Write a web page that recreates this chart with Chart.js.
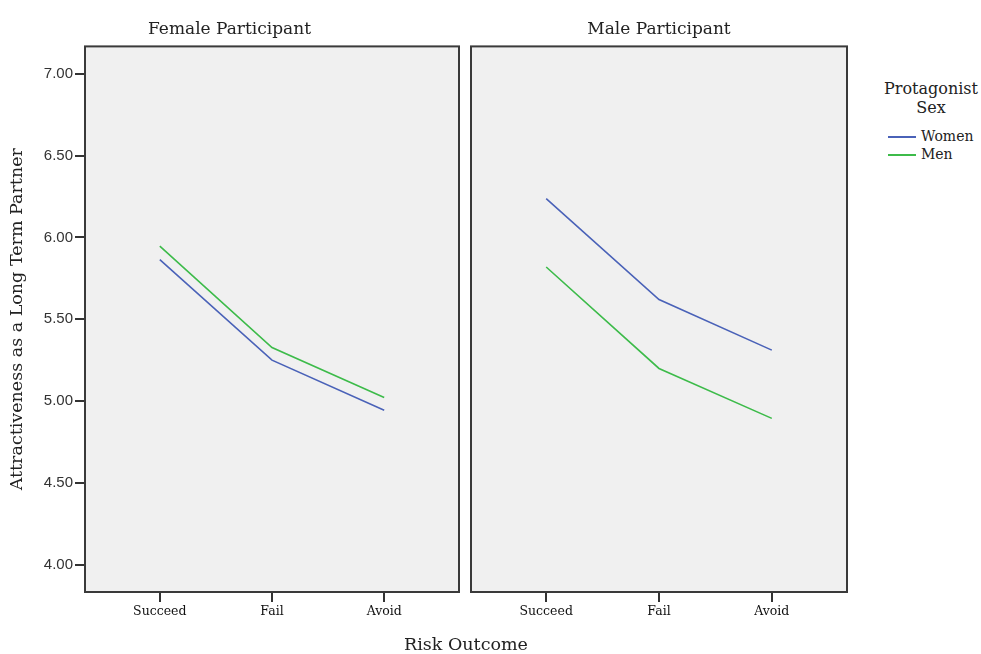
<!DOCTYPE html>
<html>
<head>
<meta charset="utf-8">
<script src="https://cdn.jsdelivr.net/npm/chart.js@4/dist/chart.umd.min.js"></script>
<style>
    body { margin: 0; background: #fff; width: 981px; height: 654px; position: relative; overflow: hidden; }
    canvas { position: absolute; top: 0; }
    #c1 { left: 0; }
    #c2 { left: 460px; }
    .txt { position: absolute; font-family: "DejaVu Serif", "Liberation Serif", serif; color: #222; }
    #xtitle { left: 0; width: 932px; top: 634px; text-align: center; font-size: 17.5px; }
    #legend { left: 880px; top: 79px; width: 102px; font-size: 16px; }
    #legend .head { text-align: center; line-height: 19px; }
    #legend .item { font-size: 14px; line-height: 18px; white-space: nowrap; }
    #legend .sw { display: inline-block; width: 28px; height: 2px; vertical-align: middle; margin: 0 5px 0 8px; }
</style>
</head>
<body>
<canvas id="c1" width="470" height="654"></canvas>
<canvas id="c2" width="400" height="654"></canvas>
<div class="txt" id="xtitle">Risk Outcome</div>
<div class="txt" id="legend"></div>
<script>
// カテゴリとデータ
const categories = ['Succeed', 'Fail', 'Avoid'];
const panels = ['Female Participant', 'Male Participant'];
const seriesNames = ['Women', 'Men'];
const seriesColors = ['#4a62b8', '#3dbb4a'];
const femaleWomen = [5.864, 5.25, 4.944];
const femaleMen = [5.946, 5.327, 5.022];
const maleWomen = [6.237, 5.62, 5.311];
const maleMen = [5.819, 5.199, 4.894];
const yTicks = [4.0, 4.5, 5.0, 5.5, 6.0, 6.5, 7.0];

const serif = '"DejaVu Serif", "Liberation Serif", serif';
const sans = '"Liberation Sans", Arial, sans-serif';

// 凡例（HTML）
const legendEl = document.getElementById('legend');
legendEl.innerHTML = '<div class="head">Protagonist<br>Sex</div><div style="height:10px"></div>' +
    seriesNames.map((n, i) => '<div class="item"><span class="sw" style="background:' + seriesColors[i] + '"></span>' + n + '</div>').join('');

// パネル背景と枠
const panelFrame = {
    id: 'panelFrame',
    beforeDraw(chart) {
        const a = chart.chartArea;
        const ctx = chart.ctx;
        ctx.save();
        ctx.fillStyle = '#f0f0f0';
        ctx.fillRect(a.left, a.top, a.right - a.left, a.bottom - a.top);
        ctx.restore();
    },
    afterDraw(chart) {
        const a = chart.chartArea;
        const ctx = chart.ctx;
        ctx.save();
        ctx.strokeStyle = '#3a3a3a';
        ctx.lineWidth = 2;
        ctx.strokeRect(a.left, a.top, a.right - a.left, a.bottom - a.top);
        ctx.restore();
    }
};

function toPoints(arr) {
    return arr.map((v, i) => ({ x: i, y: v }));
}

function makePanel(id, title, women, men, showY) {
    const ctx = document.getElementById(id).getContext('2d');
    return new Chart(ctx, {
        type: 'line',
        data: {
            datasets: [
                { label: seriesNames[0], data: toPoints(women), borderColor: seriesColors[0], borderWidth: 1.6, pointRadius: 0, tension: 0 },
                { label: seriesNames[1], data: toPoints(men), borderColor: seriesColors[1], borderWidth: 1.6, pointRadius: 0, tension: 0 }
            ]
        },
        options: {
            responsive: false,
            animation: false,
            layout: { padding: { left: showY ? 0 : 11, right: showY ? 11 : 13, top: 0, bottom: 0 } },
            plugins: {
                legend: { display: false },
                tooltip: { enabled: false },
                title: {
                    display: true,
                    text: title,
                    color: '#222',
                    font: { family: serif, size: 17, weight: 'normal' },
                    padding: { top: 19, bottom: 7 }
                }
            },
            scales: {
                x: {
                    type: 'linear',
                    min: -2 / 3,
                    max: 8 / 3,
                    afterBuildTicks: s => { s.ticks = categories.map((c, i) => ({ value: i })); },
                    afterFit: s => { s.height = 62; },
                    grid: { drawOnChartArea: false, drawTicks: true, tickLength: 10, color: '#333', lineWidth: 2 },
                    border: { display: false },
                    ticks: {
                        padding: 2,
                        maxRotation: 0,
                        color: '#111',
                        font: { family: serif, size: 12.5 },
                        callback: v => categories[v]
                    }
                },
                y: {
                    display: showY,
                    min: 3.833,
                    max: 7.167,
                    afterBuildTicks: s => { s.ticks = yTicks.map(v => ({ value: v })); },
                    afterFit: s => { s.width = showY ? 85 : 0; },
                    title: {
                        display: true,
                        text: 'Attractiveness as a Long Term Partner',
                        color: '#222',
                        font: { family: serif, size: 17.5 },
                        padding: { top: 7, bottom: 0 }
                    },
                    grid: { drawOnChartArea: false, drawTicks: true, tickLength: 10, color: '#333', lineWidth: 2 },
                    border: { display: false },
                    ticks: {
                        padding: 2,
                        color: '#333',
                        font: { family: sans, size: 15 },
                        callback: v => v.toFixed(2)
                    }
                }
            }
        },
        plugins: [panelFrame]
    });
}

makePanel('c1', panels[0], femaleWomen, femaleMen, true);
makePanel('c2', panels[1], maleWomen, maleMen, false);
</script>
</body>
</html>
